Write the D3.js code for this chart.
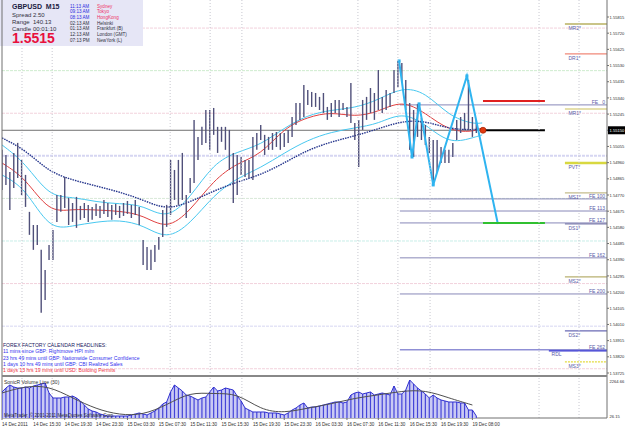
<!DOCTYPE html>
<html>
<head>
<meta charset="utf-8">
<script src="https://cdn.jsdelivr.net/npm/d3@7"></script>
<style>
  body { margin: 0; background: #fff; }
  svg { display: block; font-family: "Liberation Sans", Arial, sans-serif; }
</style>
</head>
<body>
<div id="chart"></div>
<script>
const W = 625, H = 429;

// half-hour bars, GBPUSD
const highs = [1.55035,1.55005,1.54905,1.55017,1.55076,1.54976,1.54888,1.54671,1.54594,1.54594,
  1.54448,1.54330,1.54477,1.54565,1.54770,1.54770,1.54876,1.54753,1.54723,1.54759,
  1.54706,1.54723,1.54712,1.54700,1.54718,1.54706,1.54741,1.54723,1.54712,1.54718,
  1.54706,1.54723,1.54735,1.54712,1.54741,1.54700,1.54506,1.54465,1.54448,1.54477,
  1.54524,1.54682,1.54712,1.54976,1.54917,1.54976,1.55017,1.54770,1.54870,1.55211,
  1.55111,1.55170,1.55269,1.55269,1.55281,1.55170,1.55170,1.55170,1.55152,1.55017,
  1.55005,1.54993,1.54976,1.54976,1.55111,1.55134,1.55181,1.55123,1.55111,1.55134,
  1.55140,1.55134,1.55134,1.55152,1.55228,1.55310,1.55310,1.55416,1.55387,1.55375,
  1.55369,1.55346,1.55369,1.55287,1.55310,1.55328,1.55328,1.55310,1.55287,1.55428,
  1.55193,1.55211,1.55328,1.55346,1.55398,1.55369,1.55504,1.55346,1.55387,1.55369,
  1.55504,1.55557,1.55545,1.55445,1.55310,1.55269,1.55305,1.55222,1.55181,1.55111,
  1.55093,1.55093,1.55052,1.55035,1.55035,1.55076,1.55211,1.55228,1.55252,1.55445,
  1.55228,1.55211];
const lows = [1.54800,1.54829,1.54682,1.54811,1.54870,1.54770,1.54700,1.54536,1.54448,1.54477,
  1.54078,1.54154,1.54389,1.54389,1.54612,1.54671,1.54694,1.54594,1.54612,1.54577,
  1.54624,1.54635,1.54612,1.54624,1.54647,1.54635,1.54659,1.54641,1.54624,1.54653,
  1.54635,1.54647,1.54659,1.54635,1.54653,1.54594,1.54359,1.54330,1.54330,1.54377,
  1.54448,1.54524,1.54583,1.54653,1.54741,1.54712,1.54741,1.54635,1.54782,1.54841,
  1.54976,1.55064,1.55076,1.55035,1.55123,1.55017,1.55082,1.55035,1.54917,1.54723,
  1.54770,1.54888,1.54876,1.54870,1.54858,1.55035,1.55093,1.55005,1.55035,1.55035,
  1.55052,1.55035,1.55052,1.55076,1.55111,1.55181,1.55211,1.55228,1.55299,1.55287,
  1.55287,1.55269,1.55252,1.55211,1.55228,1.55252,1.55228,1.55269,1.55228,1.55193,
  1.55093,1.54935,1.55152,1.55211,1.55252,1.55211,1.55269,1.55252,1.55269,1.55287,
  1.55369,1.55404,1.55428,1.55269,1.55035,1.54993,1.55111,1.55093,1.55064,1.55017,
  1.54829,1.54900,1.54958,1.54958,1.54958,1.54993,1.55093,1.55134,1.55152,1.55152,
  1.55111,1.55134];
const volumes = [1499,1734,1911,1793,1734,1734,1793,1734,1852,1911,
  1970,2029,1440,1145,1145,1145,1204,1204,1263,1145,
  969,733,497,380,321,203,144,85,85,85,
  85,85,85,144,203,262,203,144,262,380,
  556,792,910,1499,1911,1734,1557,1322,1263,1145,
  1028,1145,1204,1499,1793,1557,1616,1734,1675,1616,
  1263,969,556,438,321,321,321,321,262,262,
  262,203,144,262,438,556,733,851,556,615,
  615,674,733,792,851,910,910,851,910,1322,
  1440,1499,1381,1440,1499,1322,1381,1440,1381,1322,
  1852,1381,1381,1616,2205,1970,1734,1557,1381,1145,
  1322,1145,1028,969,910,910,910,851,851,438,
  438,85];

// moving averages, read every 6 bars
const maIdx = [0,6,12,18,24,30,36,42,48,54,60,66,72,78,84,90,96,102,108,114,120,122.5];
const maSlow = [1.55105,1.55035,1.54905,1.54858,1.54823,1.54788,1.54741,1.54682,1.54729,1.54794,1.54847,
  1.54888,1.54958,1.55035,1.55082,1.55117,1.55158,1.55205,1.55205,1.55158,1.55152,1.55158];
const maMid = [1.54958,1.54870,1.54665,1.54688,1.54682,1.54676,1.54653,1.54565,1.54676,1.54858,1.54958,
  1.55005,1.55164,1.55228,1.55258,1.55228,1.55258,1.55328,1.55252,1.55146,1.55140,1.55164];
const bandUp = [1.55064,1.54958,1.54759,1.54759,1.54729,1.54718,1.54712,1.54624,1.54753,1.54958,1.55023,
  1.55064,1.55164,1.55240,1.55269,1.55281,1.55328,1.55404,1.55375,1.55234,1.55187,1.55193];
const bandDn = [1.54888,1.54811,1.54565,1.54588,1.54612,1.54624,1.54594,1.54506,1.54600,1.54770,1.54870,
  1.54929,1.55017,1.55093,1.55140,1.55164,1.55187,1.55258,1.55187,1.55070,1.55105,1.55123];
const volMA = [1440,1852,1852,1145,497,144,144,733,1499,1381,1440,438,262,556,792,1145,1322,1557,1616,1145,733];

// pattern
const zzIdx = [101.3,104.6,106.4,110,118.6,126.5];
const zzPrice = [1.55557,1.54993,1.55305,1.54829,1.55469,1.54600];

const bid = 1.5515;
const redLevel = 1.55322, greenLevel = 1.54606;

const pivotNames = ["MR2*","DR1*","MR1*","PVT*","MS1*","DS1*","MS2*","DS2*","MS3*"];
const pivotLevels = [1.55774,1.55598,1.55275,1.54958,1.54782,1.54600,1.54289,1.53972,1.53790];
const pivotColors = ["#b8b060","#f08878","#dcd490","#d8d840","#c4bc8c","#7c7cac","#b8b070","#6a6ab4","#e4dc40"];

const feNames = ["FE   0","FE 100","FE 113","FE 127","FE 162","FE 200","FE 262"];
const feLevels = [1.55299,1.54747,1.54676,1.54606,1.54401,1.54189,1.53861];
const rdlLevel = 1.53855;

const roundLevels = [1.5575,1.5550,1.5525,1.5500,1.5475,1.5450,1.5425,1.5400,1.5375];
const roundColors = ["#f2d2dc","#cfeccf","#f2d2dc","#d6d6f2","#d8e8d8","#c8eee8","#f2d2dc","#d6d6f2","#f2d2dc"];

const sessionIdx = [5.1,12.8,42.9,53.1,61.2,90.8,101,109.2,137,147.2];

const priceTicks = ["1.55815","1.55720","1.55625","1.55530","1.55435","1.55340","1.55245","1.55150",
  "1.55055","1.54960","1.54865","1.54770","1.54675","1.54580","1.54485","1.54390","1.54295",
  "1.54200","1.54105","1.54010","1.53915","1.53820","1.53725"];
const timeLabels = ["14 Dec 2011","14 Dec 15:30","14 Dec 19:30","14 Dec 23:30","15 Dec 03:30",
  "15 Dec 07:30","15 Dec 11:30","15 Dec 15:30","15 Dec 19:30","15 Dec 23:30","16 Dec 03:30",
  "16 Dec 07:30","16 Dec 11:30","16 Dec 15:30","16 Dec 19:30","19 Dec 08:00"];

const clockTimes = ["11:13 AM","09:13 AM","08:13 AM","02:13 AM","01:13 AM","12:13 AM","07:13 PM"];
const clockCities = ["Sydney","Tokyo","HongKong","Helsinki","Frankfurt (B)","London (GMT)","NewYork (L)"];
const headlines = [
  "FOREX FACTORY CALENDAR HEADLINES:",
  "11 mins since GBP: Rightmove HPI m/m",
  "23 hrs 49 mins until GBP: Nationwide Consumer Confidence",
  "1 days 10 hrs 49 mins until GBP: CBI Realized Sales",
  "1 days 13 hrs 19 mins until USD: Building Permits"
];
const headColors = ["#202060","#3333ee","#3333ee","#3333ee","#ee3344"];

const plotR = 607, mainBot = 376, volTop = 378, volBot = 418;

const svg = d3.select("#chart").append("svg")
    .attr("width", W)
    .attr("height", H);

svg.append("rect").attr("width", W).attr("height", H).attr("fill", "#fff");

const x = d3.scaleLinear().domain([0, 155]).range([2, 2 + 3.92 * 155]);
const y = d3.scaleLinear().domain([1.53725, 1.55815]).range([373, 17]);
const yv = d3.scaleLinear().domain([26.15, 2264.66]).range([417, 379]);

svg.append("clipPath").attr("id", "mainClip")
  .append("rect").attr("x", 2).attr("y", 0).attr("width", plotR - 2).attr("height", mainBot);
const main = svg.append("g").attr("clip-path", "url(#mainClip)");

// round number levels
main.selectAll(".round")
  .data(roundLevels)
  .enter().append("line")
  .attr("x1", 2).attr("x2", plotR)
  .attr("y1", d => y(d)).attr("y2", d => y(d))
  .attr("stroke", (d, i) => roundColors[i])
  .attr("stroke-width", (d, i) => i === 3 ? 2 : 1)
  .attr("stroke-dasharray", "3,1");

// session separators
svg.selectAll(".sess")
  .data(sessionIdx)
  .enter().append("line")
  .attr("x1", d => x(d)).attr("x2", d => x(d))
  .attr("y1", 0).attr("y2", volBot)
  .attr("stroke", "#c8c8d0")
  .attr("stroke-dasharray", "1,2");

// bid line
main.append("line")
  .attr("x1", 2).attr("x2", x(122.7))
  .attr("y1", y(bid)).attr("y2", y(bid))
  .attr("stroke", "#707070");

// fibo expansion levels
main.selectAll(".fe")
  .data(feLevels)
  .enter().append("line")
  .attr("x1", x(101.5)).attr("x2", plotR)
  .attr("y1", d => y(d)).attr("y2", d => y(d))
  .attr("stroke", (d, i) => i === 6 ? "#5858c0" : "#8888b8");
main.selectAll(".feLab")
  .data(feNames)
  .enter().append("text")
  .attr("x", 605).attr("y", (d, i) => y(feLevels[i]) - 1)
  .attr("text-anchor", "end")
  .attr("font-size", 5).attr("fill", "#5a5aa8")
  .style("white-space", "pre")
  .text(d => d);

// pivots
main.selectAll(".piv")
  .data(pivotLevels)
  .enter().append("line")
  .attr("x1", x(143.6)).attr("x2", plotR)
  .attr("y1", d => y(d)).attr("y2", d => y(d))
  .attr("stroke", (d, i) => pivotColors[i])
  .attr("stroke-width", (d, i) => i === 3 ? 2.5 : 1.3)
  .attr("stroke-dasharray", (d, i) => i === 8 ? "2,1" : null);
main.selectAll(".pivLab")
  .data(pivotNames)
  .enter().append("text")
  .attr("x", x(144.5)).attr("y", (d, i) => y(pivotLevels[i]) + 6)
  .attr("font-size", 5).attr("fill", "#5a5aa8")
  .text(d => d);

main.append("line")
  .attr("x1", x(139.5)).attr("x2", plotR)
  .attr("y1", y(rdlLevel)).attr("y2", y(rdlLevel))
  .attr("stroke", "#3030d0").attr("stroke-width", 1.2);
main.append("text")
  .attr("x", x(140.2)).attr("y", y(rdlLevel) + 5.5)
  .attr("font-size", 5).attr("fill", "#5a5aa8").text("RDL");

// moving averages
const maLine = arr => d3.line()
  .x((d, i) => x(maIdx[i]))
  .y(d => y(d))
  .curve(d3.curveBasis)(arr);

main.append("path").attr("d", maLine(bandUp))
  .attr("fill", "none").attr("stroke", "#48c8f0").attr("stroke-width", 1);
main.append("path").attr("d", maLine(bandDn))
  .attr("fill", "none").attr("stroke", "#48c8f0").attr("stroke-width", 1);
main.append("path").attr("d", maLine(maMid))
  .attr("fill", "none").attr("stroke", "#e04040").attr("stroke-width", 1);
main.append("path").attr("d", maLine(maSlow))
  .attr("fill", "none").attr("stroke", "#24348c").attr("stroke-width", 1.4)
  .attr("stroke-dasharray", "1.5,1");

// bars
main.selectAll(".bar")
  .data(highs)
  .enter().append("line")
  .attr("x1", (d, i) => x(i)).attr("x2", (d, i) => x(i))
  .attr("y1", d => y(d)).attr("y2", (d, i) => y(lows[i]))
  .attr("stroke", "#50507a").attr("stroke-width", 1.4);

// pattern zigzag
const zz = zzIdx.map((d, i) => [x(d), y(zzPrice[i])]);
main.append("path")
  .attr("d", d3.line()(zz))
  .attr("fill", "none").attr("stroke", "#2fb4f0").attr("stroke-width", 2);
main.selectAll(".zzPt")
  .data(zz.slice(0, 5))
  .enter().append("rect")
  .attr("x", d => d[0] - 1.5).attr("y", d => d[1] - 1.5)
  .attr("width", 3).attr("height", 3).attr("fill", "#2fb4f0");

// target levels
main.append("line")
  .attr("x1", x(122.7)).attr("x2", x(138.5))
  .attr("y1", y(redLevel)).attr("y2", y(redLevel))
  .attr("stroke", "#e02020").attr("stroke-width", 2);
main.append("line")
  .attr("x1", x(122.7)).attr("x2", x(138.5))
  .attr("y1", y(bid)).attr("y2", y(bid))
  .attr("stroke", "#000").attr("stroke-width", 2);
main.append("line")
  .attr("x1", x(122.7)).attr("x2", x(138.5))
  .attr("y1", y(greenLevel)).attr("y2", y(greenLevel))
  .attr("stroke", "#30c030").attr("stroke-width", 2);
main.append("circle")
  .attr("cx", x(122.7)).attr("cy", y(bid)).attr("r", 3)
  .attr("fill", "#e03a10").attr("stroke", "#a02000").attr("stroke-width", 0.7);

// info box
svg.append("rect").attr("x", 0).attr("y", 0).attr("width", 143).attr("height", 46)
  .attr("fill", "#e6e6f6");
svg.append("text").attr("x", 12).attr("y", 9).attr("font-size", 7).attr("font-weight", "bold")
  .attr("fill", "#202040").style("white-space", "pre").text("GBPUSD  M15");
[["Spread", "2.50", 17], ["Range", "140.13", 24], ["Candle", "00:01:10", 30.5]].forEach(r => {
  svg.append("text").attr("x", 12).attr("y", r[2]).attr("font-size", 6).attr("fill", "#303040").text(r[0]);
  svg.append("text").attr("x", 33).attr("y", r[2]).attr("font-size", 6).attr("fill", "#303040").text(r[1]);
});
svg.append("text").attr("x", 12).attr("y", 43).attr("font-size", 14).attr("font-weight", "bold")
  .attr("fill", "#e8103c").text(bid.toFixed(4));
clockTimes.forEach((t, i) => {
  const yy = 7.7 + i * 5.65;
  svg.append("text").attr("x", 70).attr("y", yy).attr("font-size", 4.6)
    .attr("fill", i < 3 ? "#2c2ce0" : "#303040").text(t);
  svg.append("text").attr("x", 97).attr("y", yy).attr("font-size", 4.6)
    .attr("fill", i < 3 ? "#ee3366" : "#303040").text(clockCities[i]);
});

// headlines
headlines.forEach((t, i) => {
  svg.append("text").attr("x", 3).attr("y", 347 + i * 6.3)
    .attr("font-size", 5.1).attr("fill", headColors[i]).text(t);
});

// frame
svg.append("line").attr("x1", 2).attr("x2", 2).attr("y1", 0).attr("y2", volBot).attr("stroke", "#707070");
svg.append("line").attr("x1", plotR).attr("x2", plotR).attr("y1", 0).attr("y2", volBot).attr("stroke", "#707070");
svg.append("line").attr("x1", 2).attr("x2", plotR).attr("y1", mainBot).attr("y2", mainBot)
  .attr("stroke", "#888").attr("stroke-width", 2);
svg.append("line").attr("x1", 2).attr("x2", plotR).attr("y1", volBot).attr("y2", volBot).attr("stroke", "#707070");

// price axis
svg.selectAll(".pt")
  .data(priceTicks)
  .enter().append("text")
  .attr("x", 609.5).attr("y", d => y(+d) + 1.6)
  .attr("font-size", 4.1).attr("fill", "#303030")
  .text(d => d);
svg.selectAll(".ptTick")
  .data(priceTicks)
  .enter().append("line")
  .attr("x1", plotR).attr("x2", plotR + 2)
  .attr("y1", d => y(+d)).attr("y2", d => y(+d))
  .attr("stroke", "#707070");
svg.append("rect").attr("x", 608).attr("y", y(bid) - 4).attr("width", 17).attr("height", 8).attr("fill", "#000");
svg.append("text").attr("x", 609.5).attr("y", y(bid) + 1.6).attr("font-size", 4.1)
  .attr("fill", "#fff").text("1.55150");

// volume panel
svg.append("clipPath").attr("id", "volClip")
  .append("rect").attr("x", 2).attr("y", volTop).attr("width", plotR - 2).attr("height", volBot - volTop);
const vol = svg.append("g").attr("clip-path", "url(#volClip)");
vol.append("path")
  .attr("d", d3.area().x((d, i) => x(i)).y0(volBot).y1(d => yv(d))(volumes))
  .attr("fill", "#cacaf4");
vol.selectAll(".vb")
  .data(volumes)
  .enter().append("line")
  .attr("x1", (d, i) => x(i)).attr("x2", (d, i) => x(i))
  .attr("y1", d => yv(d)).attr("y2", volBot)
  .attr("stroke", "#4444d8").attr("stroke-width", 1.2);
vol.append("path")
  .attr("d", d3.line().x((d, i) => x(i)).y(d => yv(d))(volumes))
  .attr("fill", "none").attr("stroke", "#3030d0").attr("stroke-width", 1);
vol.append("path")
  .attr("d", d3.line().x((d, i) => x(maIdx[i])).y(d => yv(d)).curve(d3.curveBasis)(volMA))
  .attr("fill", "none").attr("stroke", "#505050").attr("stroke-width", 1);
svg.append("text").attr("x", 4).attr("y", 384).attr("font-size", 5).attr("fill", "#303030")
  .text("SonicR Volume Line (30)");
svg.append("text").attr("x", 4).attr("y", 416.5).attr("font-size", 4.6).attr("fill", "#303030")
  .text("MetaTrader, \u00a9 2001-2011 MetaQuotes Software Corp.");
svg.append("text").attr("x", 609.5).attr("y", 383).attr("font-size", 4.1).attr("fill", "#303030").text("2264.66");
svg.append("text").attr("x", 609.5).attr("y", 418).attr("font-size", 4.1).attr("fill", "#303030").text("26.15");

// time axis
svg.selectAll(".tl")
  .data(timeLabels)
  .enter().append("text")
  .attr("x", (d, i) => x(i * 8)).attr("y", 426)
  .attr("font-size", 4.6).attr("fill", "#303030")
  .text(d => d);
svg.selectAll(".tt")
  .data(timeLabels)
  .enter().append("line")
  .attr("x1", (d, i) => x(i * 8)).attr("x2", (d, i) => x(i * 8))
  .attr("y1", volBot).attr("y2", volBot + 2)
  .attr("stroke", "#707070");
</script>
</body>
</html>
